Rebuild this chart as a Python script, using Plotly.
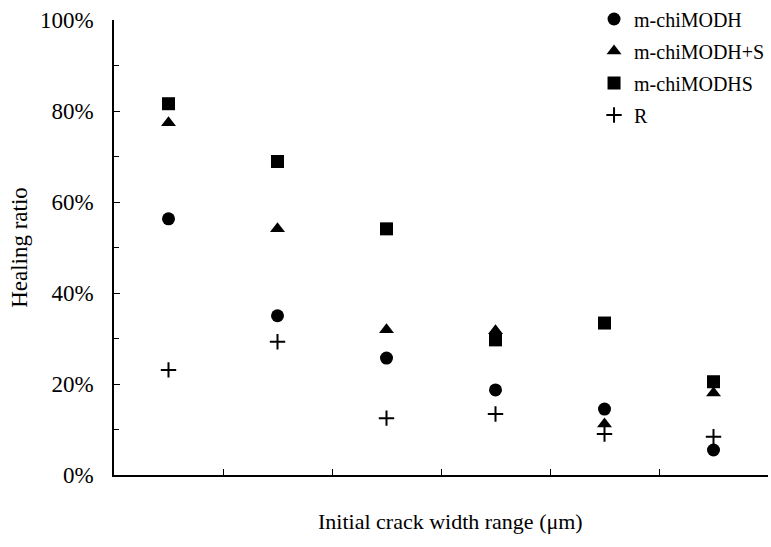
import plotly.graph_objects as go

# Crack width groups (six ranges, drawn without tick labels)
groups = ["G1", "G2", "G3", "G4", "G5", "G6"]

# Healing ratio (%) per specimen series
m_chimodh = [56.3, 35.0, 25.7, 18.7, 14.5, 5.5]
m_chimodh_s = [77.4, 54.1, 31.9, 31.7, 11.2, 18.0]
m_chimodhs = [81.6, 68.9, 54.1, 29.7, 33.4, 20.5]
r_ref = [23.1, 29.3, 12.5, 13.4, 9.0, 8.4]

series = [
    ("m-chiMODH", m_chimodh, "circle", 13, None),
    ("m-chiMODH+S", m_chimodh_s, "triangle-up", 13, None),
    ("m-chiMODHS", m_chimodhs, "square", 13, None),
    ("R", r_ref, "cross-thin", 11, 2),
]

FONT = "Liberation Serif, Times New Roman, serif"

fig = go.Figure()
for i, (name, vals, sym, size, lw) in enumerate(series):
    marker = dict(symbol=sym, size=size, color="black")
    if lw:
        marker["line"] = dict(width=lw, color="black")
    fig.add_trace(go.Scatter(
        x=groups, y=vals, mode="markers", name=name,
        legendgroup=f"g{i}", marker=marker,
    ))

fig.update_layout(
    width=771, height=547,
    margin=dict(l=114, r=3, t=20, b=72, autoexpand=False),
    paper_bgcolor="white", plot_bgcolor="white",
    font=dict(family=FONT, size=23, color="black"),
    showlegend=True,
    legend=dict(
        x=0.734, xanchor="left", y=1.045, yanchor="top",
        font=dict(family=FONT, size=20),
        tracegroupgap=3, bgcolor="rgba(0,0,0,0)",
    ),
    xaxis=dict(
        type="category", range=[-0.5, 5.5],
        showline=True, linecolor="black", linewidth=1.5,
        ticks="inside", tickson="boundaries", ticklen=6, tickcolor="black",
        showticklabels=False, showgrid=False, zeroline=False,
    ),
    yaxis=dict(
        range=[0, 100], dtick=20, ticksuffix="%",
        showline=True, linecolor="black", linewidth=1.5,
        ticks="inside", ticklen=6, tickcolor="black",
        minor=dict(dtick=10, ticks="inside", ticklen=5, tickcolor="black"),
        showgrid=False, zeroline=False,
        ticklabelstandoff=14,
        tickfont=dict(family=FONT, size=23),
        title=dict(text="Healing ratio", standoff=6,
                   font=dict(family=FONT, size=23)),
    ),
    annotations=[dict(
        text="Initial crack width range (μm)",
        xref="paper", yref="paper", x=0.515, y=-0.102,
        xanchor="center", yanchor="middle", showarrow=False,
        font=dict(family=FONT, size=22),
    )],
)

fig.write_html("out.html")
